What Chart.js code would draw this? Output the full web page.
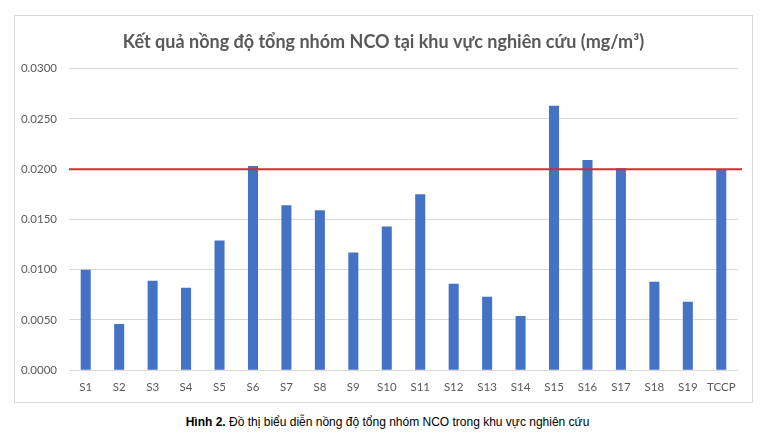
<!DOCTYPE html>
<html>
<head>
<meta charset="utf-8">
<script src="https://cdn.jsdelivr.net/npm/chart.js@4/dist/chart.umd.min.js"></script>
<style>
    body { margin: 0; background: #fff; width: 775px; height: 442px; position: relative; }
    #box { position: absolute; left: 14px; top: 15px; width: 737px; height: 386px; border: 1px solid #d9d9d9; }
    #caption { position: absolute; left: 0; top: 415px; width: 775px; text-align: center; font-family: "Liberation Sans", Arial, sans-serif; font-size: 12px; color: #000; }
</style>
</head>
<body>
<div id="box"><canvas id="nco" width="737" height="386"></canvas></div>
<div id="caption"><b>Hình 2.</b> Đồ thị biểu diễn nồng độ tổng nhóm NCO trong khu vực nghiên cứu</div>
<script>
const stations = ["S1", "S2", "S3", "S4", "S5", "S6", "S7", "S8", "S9", "S10",
    "S11", "S12", "S13", "S14", "S15", "S16", "S17", "S18", "S19", "TCCP"];
const ncoValues = [0.0100, 0.0046, 0.0089, 0.0082, 0.0129, 0.0203, 0.0164, 0.0159, 0.0117, 0.0143,
    0.0175, 0.0086, 0.0073, 0.0054, 0.0263, 0.0209, 0.0201, 0.0088, 0.0068, 0.0200];
const limitValue = 0.0200;
const yTicks = [0, 0.005, 0.010, 0.015, 0.020, 0.025, 0.030];

// red limit line across the whole plot, drawn over the bars
const limitLine = {
    id: "limitLine",
    afterDatasetsDraw(chart) {
        const { ctx, chartArea, scales } = chart;
        const y = scales.y.getPixelForValue(limitValue);
        ctx.save();
        ctx.strokeStyle = "#d92b2b";
        ctx.lineWidth = 2;
        ctx.beginPath();
        ctx.moveTo(chartArea.left, y);
        ctx.lineTo(chartArea.right + 4, y);
        ctx.stroke();
        ctx.restore();
    }
};

new Chart(document.getElementById("nco"), {
    type: "bar",
    data: {
        labels: stations,
        datasets: [{
            data: ncoValues,
            backgroundColor: "#4472c4",
            barPercentage: 0.3,
            categoryPercentage: 1
        }]
    },
    options: {
        responsive: false,
        animation: false,
        layout: { padding: { left: 0, right: 0, top: 0, bottom: -2 } },
        plugins: {
            legend: { display: false },
            tooltip: { enabled: false },
            title: {
                display: true,
                text: "Kết quả nồng độ tổng nhóm NCO tại khu vực nghiên cứu (mg/m³)",
                color: "#595959",
                font: { family: "Lato, 'Open Sans', sans-serif", size: 18, weight: "bold" },
                padding: { top: 15, bottom: 16 }
            }
        },
        scales: {
            x: {
                grid: { display: false, drawTicks: false, tickLength: 0 },
                border: { display: false },
                ticks: {
                    color: "#595959",
                    font: { family: "Lato, 'Open Sans', sans-serif", size: 11.5 },
                    padding: 10,
                    maxRotation: 0,
                    autoSkip: false
                }
            },
            y: {
                min: 0,
                max: 0.03,
                afterFit(axis) { axis.width = 54; },
                afterBuildTicks(axis) { axis.ticks = yTicks.map(v => ({ value: v })); },
                grid: { color: "#d9d9d9", lineWidth: 1, drawTicks: false },
                border: { display: false },
                ticks: {
                    color: "#595959",
                    font: { family: "Lato, 'Open Sans', sans-serif", size: 11.5 },
                    padding: 12,
                    callback: v => v.toFixed(4)
                }
            },
            // empty right margin so the title stays centred on the whole chart
            yRight: {
                position: "right",
                afterFit(axis) { axis.width = 14; },
                grid: { display: false, drawTicks: false },
                border: { display: false },
                ticks: { display: false }
            }
        }
    },
    plugins: [limitLine]
});
</script>
</body>
</html>
